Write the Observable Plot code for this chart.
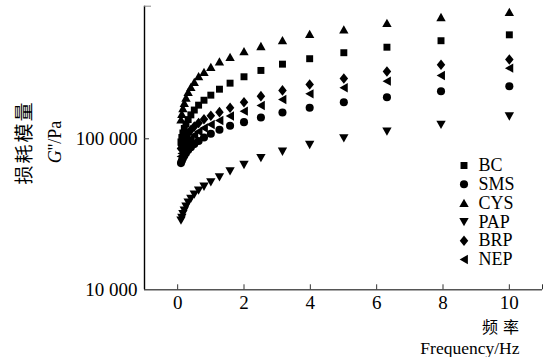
<!DOCTYPE html>
<html><head><meta charset="utf-8">
<script src="https://cdn.jsdelivr.net/npm/d3@7"></script>
<script src="https://cdn.jsdelivr.net/npm/@observablehq/plot@0.6"></script>
<style>body{margin:0;background:#fff}#chart{width:547px;height:357px}</style>
</head><body><div id="chart"></div>
<script>
// Frequency sweep (Hz)
const freq = [0.1,0.126,0.158,0.2,0.251,0.316,0.398,0.501,0.631,0.794,1,1.26,1.58,2,2.51,3.16,3.98,5.01,6.31,7.94,10];
const seriesNames = ["BC","SMS","CYS","PAP","BRP","NEP"];
const BC  = [95300,102000,109300,117000,125300,134000,144000,155000,167000,180000,194500,213000,233500,257400,283500,312000,339000,371500,404000,446000,488000];
const SMS = [69000,71500,74300,77300,80600,84200,88000,92200,96800,102000,108000,114800,121900,128900,138400,149300,160400,174700,188500,206600,223000];
const CYS = [134000,145900,158800,172000,187000,203700,219700,237000,258700,276000,298000,324000,347000,379000,410000,448000,493000,529000,583000,638000,689000];
const PAP = [28800,30100,31800,33500,35600,37900,40200,42800,45500,48300,51600,55700,61000,67300,74800,82400,91300,101000,112000,124000,141000];
const BRP = [86300,90300,94500,99000,103600,108400,114400,120600,127300,134800,142000,150000,160400,174700,191500,209000,229000,250600,279000,309000,335000];
const NEP = [76400,80000,83700,87600,91700,96000,100500,105900,111700,117900,124400,132200,141600,152300,166200,182000,198500,217600,240700,262600,293600];
const xTicks = [0,2,4,6,8,10];
const yTicks = [10000,100000];
const yTickLabels = ["10 000","100 000"];
const xDomain = [-1,11];
const yDomain = [10000,755000];

const seriesValues = [BC,SMS,CYS,PAP,BRP,NEP];
const table = seriesNames.flatMap((name,i)=>freq.map((f,j)=>({name, f, v: seriesValues[i][j]})));

function poly(pts){
  return {draw(ctx,size){const a=Math.sqrt(size);ctx.moveTo(pts[0][0]*a,pts[0][1]*a);for(let k=1;k<pts.length;k++)ctx.lineTo(pts[k][0]*a,pts[k][1]*a);ctx.closePath();}};
}
const symSquare = poly([[-0.49,-0.49],[0.49,-0.49],[0.49,0.49],[-0.49,0.49]]);
const symCircle = {draw(ctx,size){const r=Math.sqrt(size)*0.57;ctx.moveTo(r,0);ctx.arc(0,0,r,0,2*Math.PI);}};
const symUp = poly([[0,-0.62],[0.66,0.55],[-0.66,0.55]]);
const symDown = poly([[0,0.62],[0.66,-0.55],[-0.66,-0.55]]);
const symDiamond = poly([[0,-0.75],[0.6,0],[0,0.75],[-0.6,0]]);
const symLeft = poly([[-0.62,0],[0.55,-0.66],[0.55,0.66]]);

const SERIF = "Liberation Serif";
const CJK = "Noto Sans CJK SC";

const legendMarks = seriesNames.flatMap((name,i)=>[
  Plot.dot([name],{frameAnchor:"top-left",dx:319.5,dy:159.3+i*18.8,symbol:d=>d,fill:"black",r:4}),
  Plot.text([name],{frameAnchor:"top-left",dx:334,dy:159.3+i*18.8,text:d=>d,textAnchor:"start",lineAnchor:"middle",fontSize:18,fill:"black"})
]);

const chart = Plot.plot({
  width:547, height:357,
  marginLeft:144, marginRight:5, marginTop:5.7, marginBottom:67.7,
  style:{fontSize:"19px", background:"white", color:"black"},
  x:{domain:xDomain, label:null},
  y:{type:"log", domain:yDomain, label:null},
  symbol:{domain:seriesNames, range:[symSquare,symCircle,symUp,symDown,symDiamond,symLeft]},
  marks:[
    Plot.ruleY([yDomain[0]],{stroke:"#555",strokeWidth:1.5}),
    Plot.ruleX([xDomain[0]],{stroke:"black",strokeWidth:1.4}),
    Plot.axisX([...xTicks, xDomain[1]],{tickSize:5,dy:-5,text:null,stroke:"#333",label:null}),
    Plot.axisX(xTicks,{tickSize:0,tickPadding:6,label:null,fontSize:19}),
    Plot.axisY([yTicks[1]],{tickSize:5,dx:5,text:null,stroke:"#333",label:null}),
    Plot.axisY([yDomain[1]],{tickSize:7,dx:7,text:null,stroke:"#888",label:null}),
    Plot.axisY(yTicks,{tickSize:0,tickPadding:7,label:null,fontSize:19,tickFormat:d=>yTickLabels[yTicks.indexOf(d)]}),
    Plot.dot(table,{x:"f",y:"v",symbol:"name",fill:"black",r:4}),
    ...legendMarks,
    Plot.text(["损耗模量"],{frameAnchor:"left",textAnchor:"middle",lineAnchor:"middle",rotate:-90,dx:-120,dy:-5.5,fontSize:19,fill:"black"}),
    Plot.text(["G''/Pa"],{frameAnchor:"left",textAnchor:"middle",lineAnchor:"middle",rotate:-90,dx:-89.5,dy:-6,fontSize:18,fill:"black"}),
    Plot.text(["频率"],{frameAnchor:"bottom-right",lineAnchor:"middle",dx:-18.5,dy:38.1,textAnchor:"end",fontSize:16,fill:"black"}),
    Plot.text(["Frequency/Hz"],{frameAnchor:"bottom-right",lineAnchor:"middle",dx:-23,dy:58.1,textAnchor:"end",fontSize:17.5,fill:"black"})
  ]
});
document.getElementById("chart").appendChild(chart);
const svg = d3.select(chart);
svg.attr("font-family", SERIF).style("font-family", SERIF);
svg.selectAll("g").filter(function(){return this.hasAttribute("font-family");}).attr("font-family", SERIF);
svg.selectAll("text").style("font-family", SERIF);
svg.selectAll("text").filter(function(){return this.textContent==="损耗模量";}).style("font-family",CJK).style("letter-spacing","2px");
svg.selectAll("text").filter(function(){return this.textContent==="频率";}).style("font-family",CJK).style("letter-spacing","5px");
svg.selectAll("text").filter(function(){return this.textContent==="G''/Pa";}).each(function(){
  const t=d3.select(this); t.text(null);
  t.append("tspan").style("font-style","italic").text("G");
  t.append("tspan").text("''/Pa");
});
</script></body></html>
